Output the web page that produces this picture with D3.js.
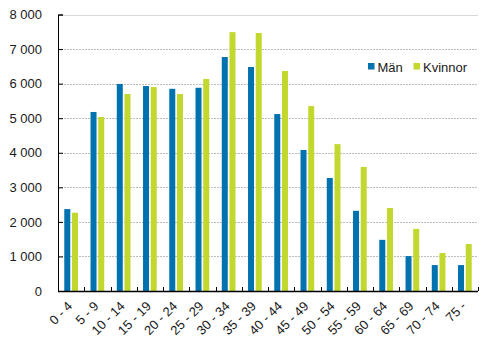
<!DOCTYPE html>
<html><head><meta charset="utf-8">
<script src="https://cdn.jsdelivr.net/npm/d3@7"></script>
<style>body{margin:0;background:#fff}svg{display:block}text{font-family:"Liberation Sans",Arial,sans-serif;fill:#1a1a1a}</style>
</head><body><svg id="c" width="492" height="346"></svg>
<script>
const categories = ["0 - 4","5 - 9","10 - 14","15 - 19","20 - 24","25 - 29","30 - 34","35 - 39","40 - 44","45 - 49","50 - 54","55 - 59","60 - 64","65 - 69","70 - 74","75 -"];
const man = [2370,5180,5990,5930,5850,5880,6770,6480,5120,4080,3270,2320,1480,1010,750,750];
const kvinnor = [2265,5035,5700,5900,5700,6135,7490,7465,6365,5350,4250,3590,2400,1795,1100,1360];
const seriesNames = ["Män","Kvinnor"];
const colors = ["#0072AF","#C2D82E"];
const yTicks = [0,1000,2000,3000,4000,5000,6000,7000,8000];

const svg = d3.select("#c");
const L = 58, R = 478, T = 14.5, B = 291;
const x = d3.scaleBand().domain(categories).range([L, R]).padding(0);
const y = d3.scaleLinear().domain([0, 8000]).range([B, T]);
const fmt = v => d3.format(",")(v).replace(/,/g, " ");

// grid
svg.append("g").selectAll("line").data(yTicks.filter(d => d > 0)).join("line")
  .attr("x1", L).attr("x2", R).attr("y1", d => Math.round(y(d)) + 0.5).attr("y2", d => Math.round(y(d)) + 0.5)
  .attr("stroke", d => d === 8000 ? "#d9d9d9" : "#bdbdbd")
  .attr("stroke-dasharray", d => d === 8000 ? null : "2,1");

// bars
const data = [man, kvinnor];
const bw = 6, gap = 1.7;
data.forEach((vals, si) => {
  svg.append("g").selectAll("rect").data(vals).join("rect")
    .attr("x", (d, i) => x(categories[i]) + x.bandwidth() / 2 + (si === 0 ? -(bw + gap / 2) : gap / 2))
    .attr("width", bw)
    .attr("y", d => y(d))
    .attr("height", d => B - y(d))
    .attr("fill", colors[si]);
});

// y axis
const ya = svg.append("g").attr("transform", `translate(${L},0)`)
  .call(d3.axisLeft(y).tickValues(yTicks).tickSize(-5).tickPadding(16).tickFormat(fmt));
ya.select(".domain").attr("stroke", "#000");
ya.selectAll(".tick line").attr("stroke", "#000");
ya.selectAll("text").attr("font-size", 13).style("font-family", "'Liberation Sans',Arial,sans-serif").attr("fill", "#1a1a1a");

// x axis line and ticks
svg.append("line").attr("x1", L).attr("x2", R).attr("y1", B + 0.5).attr("y2", B + 0.5).attr("stroke", "#000").attr("stroke-width", 1.5);
const bounds = categories.map(c => x(c)).concat([R]);
svg.append("g").selectAll("line").data(bounds).join("line")
  .attr("x1", d => Math.round(d) + 0.5).attr("x2", d => Math.round(d) + 0.5)
  .attr("y1", B - 4).attr("y2", B).attr("stroke", "#000");

// x labels
svg.append("g").selectAll("text").data(categories).join("text")
  .attr("transform", d => `translate(${x(d) + x.bandwidth() / 2 + 2},${B + 16}) rotate(-45)`)
  .attr("text-anchor", "end").attr("font-size", 13).text(d => d);

// legend
const lg = svg.append("g");
const lx = [368, 413.5];
seriesNames.forEach((n, i) => {
  lg.append("rect").attr("x", lx[i]).attr("y", 63).attr("width", 6.5).attr("height", 6.5).attr("fill", colors[i]);
  lg.append("text").attr("x", lx[i] + 9.5).attr("y", 71.5).attr("font-size", 13).text(n);
});
</script></body></html>
